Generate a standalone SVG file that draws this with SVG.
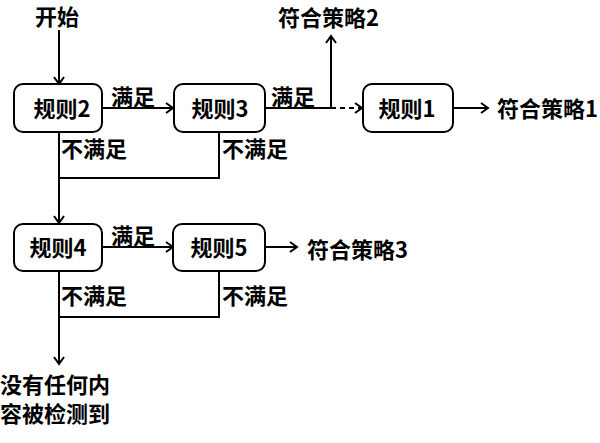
<svg xmlns="http://www.w3.org/2000/svg" width="600" height="443" viewBox="0 0 600 443">
<style>
.t{font-family:"Noto Sans CJK SC","Noto Sans",sans-serif;font-size:22px;font-weight:700;fill:#000}
.box{fill:#fff;stroke:#000;stroke-width:2}
.ln{fill:none;stroke:#000;stroke-width:2}
.ar{marker-end:url(#ah)}
</style>
<defs>
<marker id="ah" markerWidth="12" markerHeight="12" refX="10" refY="6" orient="auto" markerUnits="userSpaceOnUse">
<polyline points="3,1 10,6 3,11" fill="none" stroke="#000" stroke-width="2"/>
</marker>
</defs>
<rect width="600" height="443" fill="#fff"/>
<g id="connectors">
<line class="ln ar" x1="59" y1="30" x2="59" y2="84"/>
<line class="ln ar" x1="102" y1="108" x2="173" y2="108"/>
<polyline class="ln" points="59,132 59,178 219,178 219,132"/>
<line class="ln ar" x1="59" y1="178" x2="59" y2="223"/>
<line class="ln" x1="265" y1="108" x2="331" y2="108"/>
<line class="ln ar" x1="331" y1="108" x2="331" y2="36"/>
<line class="ln ar" x1="331" y1="108" x2="362" y2="108" stroke-dasharray="5,4"/>
<line class="ln ar" x1="453" y1="108" x2="488" y2="108"/>
<line class="ln ar" x1="102" y1="247" x2="173" y2="247"/>
<line class="ln ar" x1="265" y1="247" x2="297" y2="247"/>
<polyline class="ln" points="219,271 219,317 59,317"/>
<line class="ln ar" x1="59" y1="271" x2="59" y2="364"/>
<text class="t" x="111" y="105">满足</text>
<text class="t" x="61" y="157">不满足</text>
<text class="t" x="222" y="157">不满足</text>
<text class="t" x="271" y="105">满足</text>
<text class="t" x="111" y="244">满足</text>
<text class="t" x="61" y="304">不满足</text>
<text class="t" x="222" y="304">不满足</text>
</g>
<g id="start"><text class="t" x="35" y="25">开始</text></g>
<g id="rule2"><rect class="box" x="14" y="84" width="88" height="48" rx="9"/><text class="t" x="62" y="117" text-anchor="middle">规则2</text></g>
<g id="rule3"><rect class="box" x="174" y="84" width="91" height="48" rx="9"/><text class="t" x="220" y="117" text-anchor="middle">规则3</text></g>
<g id="rule1"><rect class="box" x="363" y="84" width="90" height="48" rx="9"/><text class="t" x="407" y="117" text-anchor="middle">规则1</text></g>
<g id="policy2"><text class="t" x="278" y="26">符合策略2</text></g>
<g id="policy1"><text class="t" x="497" y="117">符合策略1</text></g>
<g id="rule4"><rect class="box" x="14" y="224" width="88" height="47" rx="9"/><text class="t" x="58" y="256" text-anchor="middle">规则4</text></g>
<g id="rule5"><rect class="box" x="173" y="224" width="92" height="47" rx="9"/><text class="t" x="219" y="256" text-anchor="middle">规则5</text></g>
<g id="policy3"><text class="t" x="307" y="258">符合策略3</text></g>
<g id="none"><text class="t" x="0" y="393">没有任何内</text><text class="t" x="0" y="422">容被检测到</text></g>
</svg>
